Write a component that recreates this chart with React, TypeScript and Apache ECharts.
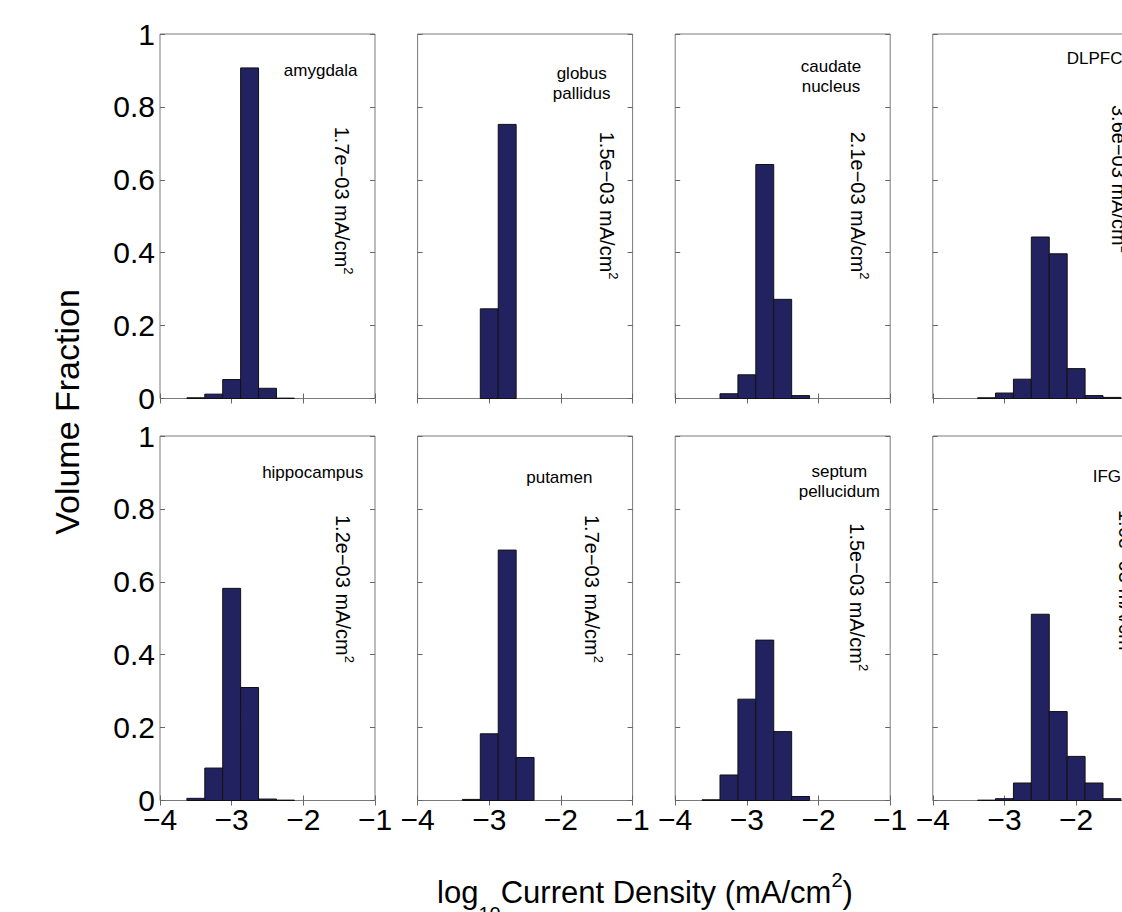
import React, { useEffect, useRef } from "react";
import * as echarts from "echarts";

// ---------- data ----------
const BIN_WIDTH = 0.25;
const BIN_CENTERS = [-3.5, -3.25, -3, -2.75, -2.5, -2.25, -2, -1.75, -1.5];

const AMYGDALA = [0.002, 0.012, 0.052, 0.907, 0.028, 0.001, 0, 0, 0];
const GLOBUS_PALLIDUS = [0, 0, 0.246, 0.752, 0, 0, 0, 0, 0];
const CAUDATE_NUCLEUS = [0, 0.013, 0.065, 0.642, 0.272, 0.008, 0, 0, 0];
const DLPFC = [0, 0.002, 0.015, 0.053, 0.443, 0.397, 0.082, 0.008, 0.003];
const HIPPOCAMPUS = [0.006, 0.089, 0.582, 0.31, 0.004, 0.001, 0, 0, 0];
const PUTAMEN = [0, 0.003, 0.183, 0.687, 0.118, 0, 0, 0, 0];
const SEPTUM_PELLUCIDUM = [0.002, 0.07, 0.278, 0.44, 0.189, 0.011, 0, 0, 0];
const IFG = [0, 0.001, 0.005, 0.048, 0.511, 0.244, 0.121, 0.048, 0.005];

const REGION_NAMES = [
  "amygdala",
  "globus\npallidus",
  "caudate\nnucleus",
  "DLPFC",
  "hippocampus",
  "putamen",
  "septum\npellucidum",
  "IFG",
];
const MEAN_DENSITY = [
  "1.7e\u221203",
  "1.5e\u221203",
  "2.1e\u221203",
  "3.6e\u221203",
  "1.2e\u221203",
  "1.7e\u221203",
  "1.5e\u221203",
  "1.6e\u221203",
];
const SERIES_VALUES = [
  AMYGDALA,
  GLOBUS_PALLIDUS,
  CAUDATE_NUCLEUS,
  DLPFC,
  HIPPOCAMPUS,
  PUTAMEN,
  SEPTUM_PELLUCIDUM,
  IFG,
];
const X_MIN = -4;
const X_MAX = -1;
const Y_MIN = 0;
const Y_MAX = 1;
const X_TITLE_UNIT = "Current Density (mA/cm";
const Y_TITLE = "Volume Fraction";

// ---------- layout ----------
const COL_LEFT = [160, 417.6, 675.2, 932.8];
const ROW_TOP = [34, 436];
const PANEL_W = 215;
const PANEL_H = 364.5;
// name label: [x, y, align]
const NAME_POS: [number, number, string][] = [
  [320.7, 70.7, "center"],
  [581.7, 83.5, "center"],
  [831, 76, "center"],
  [1066.7, 58.3, "left"],
  [312.7, 472.3, "center"],
  [559.3, 477.3, "center"],
  [839.3, 481.5, "center"],
  [1092.7, 476.7, "left"],
];
// rotated label start: [x, y]
const ROT_POS: [number, number][] = [
  [341.7, 126.7],
  [606.7, 131.7],
  [858.3, 131.7],
  [1119, 105],
  [343.3, 515],
  [591.7, 515],
  [856.7, 523.3],
  [1126, 510],
];

const FONT = '"Liberation Sans", Arial, Helvetica, sans-serif';
const BAR_FILL = "#222260";
const FRAME = "#7a7a7a";

const fmtX = (v: number) => (v < 0 ? "\u2212" + Math.abs(v) : String(v));
const fmtY = (v: number) => String(Math.round(v * 10) / 10);

export default function App() {
  const ref = useRef<HTMLDivElement>(null);

  useEffect(() => {
    if (!ref.current) return;
    const chart = echarts.init(ref.current, undefined, { renderer: "svg" });

    const grids: any[] = [];
    const xAxes: any[] = [];
    const yAxes: any[] = [];
    const series: any[] = [];
    const graphic: any[] = [];

    for (let i = 0; i < 8; i++) {
      const row = Math.floor(i / 4);
      const col = i % 4;
      grids.push({
        left: COL_LEFT[col],
        top: ROW_TOP[row],
        width: PANEL_W,
        height: PANEL_H,
        show: true,
        borderColor: FRAME,
        borderWidth: 1,
        backgroundColor: "#fff",
      });
      const tick = { show: true, inside: true, length: 5, lineStyle: { color: "#666", width: 1 } };
      const base = {
        gridIndex: i,
        type: "value",
        splitLine: { show: false },
        axisLine: { show: false },
        axisTick: tick,
      };
      xAxes.push({
        ...base,
        position: "bottom",
        min: X_MIN,
        max: X_MAX,
        interval: 1,
        axisLabel: {
          show: row === 1,
          formatter: fmtX,
          fontSize: 30,
          fontFamily: FONT,
          color: "#000",
          margin: 4,
        },
      });
      xAxes.push({
        ...base,
        position: "top",
        min: X_MIN,
        max: X_MAX,
        interval: 1,
        axisLabel: { show: false },
      });
      yAxes.push({
        ...base,
        position: "left",
        min: Y_MIN,
        max: Y_MAX,
        interval: 0.2,
        axisLabel: {
          show: col === 0,
          formatter: fmtY,
          fontSize: 30,
          fontFamily: FONT,
          color: "#000",
          margin: 5,
        },
      });
      yAxes.push({
        ...base,
        position: "right",
        min: Y_MIN,
        max: Y_MAX,
        interval: 0.2,
        axisLabel: { show: false },
      });

      const vals = SERIES_VALUES[i];
      const data = BIN_CENTERS.map((c, k) => [c, vals[k]]).filter((d) => d[1] > 0);
      series.push({
        type: "custom",
        xAxisIndex: 2 * i,
        yAxisIndex: 2 * i,
        data,
        renderItem: (params: any, api: any) => {
          const c = api.value(0);
          const v = api.value(1);
          const p0 = api.coord([c - BIN_WIDTH / 2, v]);
          const p1 = api.coord([c + BIN_WIDTH / 2, 0]);
          return {
            type: "rect",
            shape: { x: p0[0], y: p0[1], width: p1[0] - p0[0], height: p1[1] - p0[1] },
            style: { fill: BAR_FILL, stroke: "#111", lineWidth: 1 },
          };
        },
      });

      const np = NAME_POS[i];
      graphic.push({
        type: "text",
        x: np[0],
        y: np[1],
        z: 100,
        style: {
          text: REGION_NAMES[i],
          fontSize: 17,
          fontFamily: FONT,
          fill: "#000",
          lineHeight: 20,
          align: np[2],
          textAlign: np[2],
          verticalAlign: "middle",
          textVerticalAlign: "middle",
        },
      });
      const rp = ROT_POS[i];
      graphic.push({
        type: "text",
        x: rp[0],
        y: rp[1],
        z: 100,
        rotation: -Math.PI / 2,
        style: {
          text: `{a|${MEAN_DENSITY[i]} mA/cm}{s|2}`,
          fill: "#000",
          align: "left",
          textAlign: "left",
          verticalAlign: "middle",
          textVerticalAlign: "middle",
          rich: {
            a: { fontSize: 20, fontFamily: FONT, fill: "#000", lineHeight: 26 },
            s: { fontSize: 13, fontFamily: FONT, fill: "#000", verticalAlign: "top" },
          },
        },
      });
    }

    graphic.push({
      type: "text",
      x: 67,
      y: 412,
      rotation: Math.PI / 2,
      style: {
        text: Y_TITLE,
        fontSize: 34,
        fontFamily: FONT,
        fill: "#000",
        align: "center",
        textAlign: "center",
        verticalAlign: "middle",
        textVerticalAlign: "middle",
      },
    });
    graphic.push({
      type: "text",
      x: 645,
      y: 892,
      style: {
        text: `{a|log}{b|10}{a|${X_TITLE_UNIT}}{s|2}{a|)}`,
        fill: "#000",
        align: "center",
        textAlign: "center",
        verticalAlign: "middle",
        textVerticalAlign: "middle",
        rich: {
          a: { fontSize: 31, fontFamily: FONT, fill: "#000", lineHeight: 70 },
          b: { fontSize: 20, fontFamily: FONT, fill: "#000", verticalAlign: "bottom", padding: [0, 0, 3, 0] },
          s: { fontSize: 20, fontFamily: FONT, fill: "#000", verticalAlign: "top", padding: [13, 0, 0, 0] },
        },
      },
    });

    chart.setOption({
      animation: false,
      backgroundColor: "#fff",
      grid: grids,
      xAxis: xAxes,
      yAxis: yAxes,
      series,
      graphic,
    });

    return () => chart.dispose();
  }, []);

  return (
    <div
      style={{
        position: "fixed",
        left: 0,
        top: 0,
        width: 1122,
        height: 912,
        overflow: "hidden",
        background: "#fff",
      }}
    >
      <div ref={ref} style={{ width: 1180, height: 912 }} />
    </div>
  );
}
